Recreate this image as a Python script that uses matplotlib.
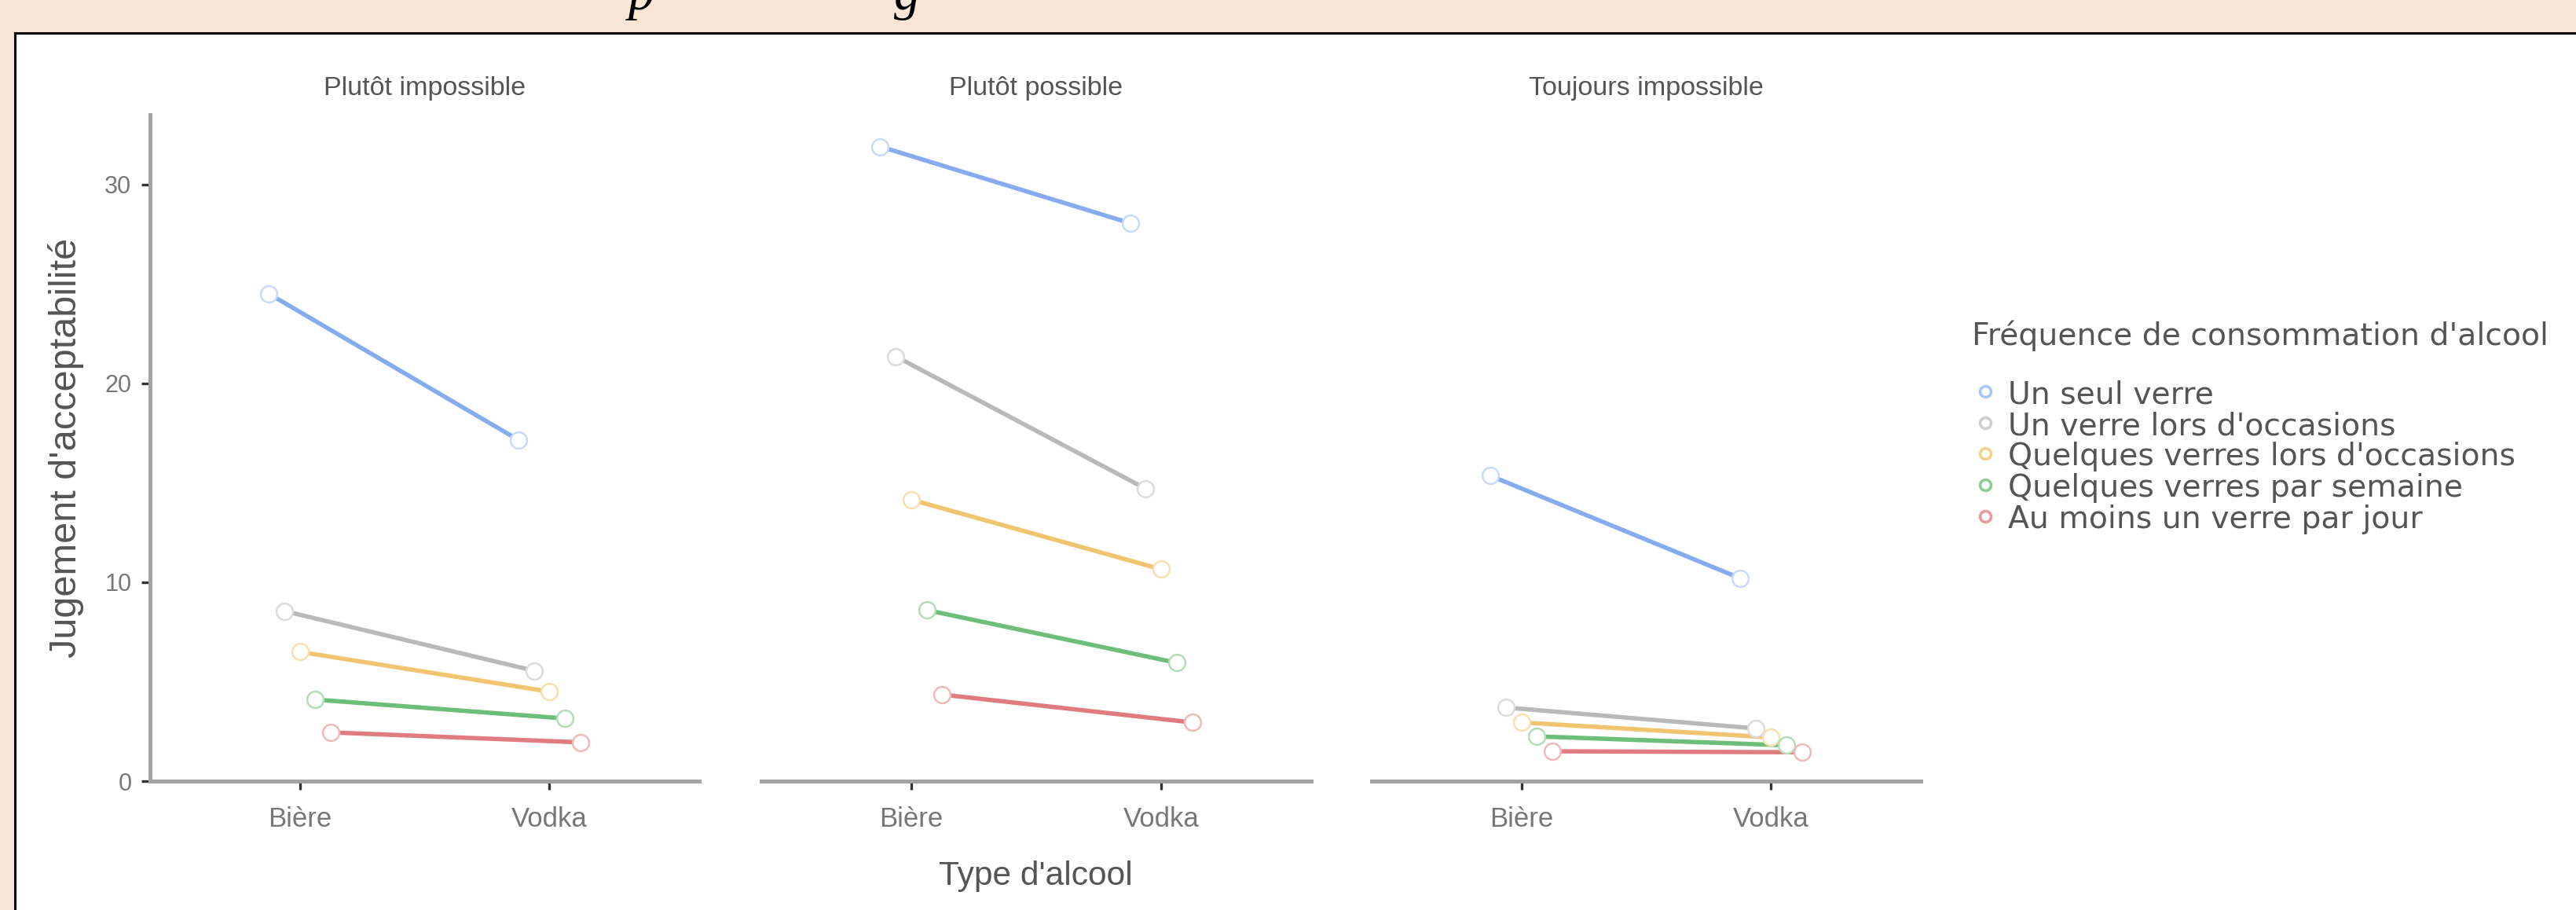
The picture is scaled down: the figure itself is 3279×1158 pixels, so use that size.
import matplotlib
matplotlib.use("Agg")
import matplotlib.pyplot as plt
from matplotlib.lines import Line2D
from matplotlib.patches import Rectangle
import numpy as np

plt.rcParams['font.family'] = ['Liberation Sans', 'DejaVu Sans']

panels = ["Plutôt impossible", "Plutôt possible", "Toujours impossible"]
alcools = ["Bière", "Vodka"]
groupes = ["Un seul verre", "Un verre lors d'occasions", "Quelques verres lors d'occasions",
           "Quelques verres par semaine", "Au moins un verre par jour"]

# jugement moyen [bière, vodka] pour chaque groupe
plutot_impossible = [[24.5, 17.15], [8.55, 5.55], [6.5, 4.5], [4.1, 3.15], [2.45, 1.95]]
plutot_possible = [[31.9, 28.05], [21.35, 14.7], [14.15, 10.65], [8.6, 5.95], [4.35, 2.95]]
toujours_impossible = [[15.35, 10.2], [3.7, 2.65], [2.95, 2.2], [2.25, 1.8], [1.5, 1.45]]
y_ticks = [0, 10, 20, 30]

line_colors = ['#86ACF0', '#B9B9B9', '#F1C46F', '#6DBE78', '#E07C80']
edge_colors = ['#C8DAFA', '#DCDCDC', '#F8DFAE', '#B3DDB7', '#F2B9BB']
legend_edges = ['#A9C4F6', '#CFCFCF', '#F4D08C', '#8FCC96', '#EA9A9D']

W, H = 3280, 1158
DPI = 200
fig = plt.figure(figsize=(W / DPI, H / DPI), dpi=DPI, facecolor='#FBE5D6')

# white page area with black frame on top / left
top = (H - 42) / H
left = 19 / W
fig.add_artist(Rectangle((left, 0), 1 - left, top, transform=fig.transFigure,
                         facecolor='white', edgecolor='none', zorder=-5))
fig.add_artist(Line2D([left, 1], [top, top], transform=fig.transFigure, color='black', lw=1.1))
fig.add_artist(Line2D([left, left], [0, top], transform=fig.transFigure, color='black', lw=1.1))

# bits of the caption above, cut off by the crop
fig.text(800 / W, 1 - 12 / H, "p", family='Liberation Serif', style='italic', fontsize=24,
         va='baseline', ha='left', color='black')
fig.text(1138 / W, 1 - 12 / H, "g", family='Liberation Serif', style='italic', fontsize=24,
         va='baseline', ha='left', color='black')

def px_axes(x0, x1, y0, y1):
    return fig.add_axes([x0 / W, 1 - y1 / H, (x1 - x0) / W, (y1 - y0) / H])

panel_px = [(191, 890), (969, 1669), (1746, 2445)]
data = [plutot_impossible, plutot_possible, toujours_impossible]
offsets = [-0.124, -0.062, 0.0, 0.062, 0.124]
x_base = np.array([1, 2])

for i, (x0, x1) in enumerate(panel_px):
    ax = px_axes(x0, x1, 146, 994)
    ax.set_facecolor('none')
    for k in range(len(groupes)):
        xs = x_base + offsets[k]
        ax.plot(xs, data[i][k], color=line_colors[k], lw=2.0, zorder=2)
    for k in range(len(groupes)):
        xs = x_base + offsets[k]
        ax.plot(xs, data[i][k], 'o', ms=7.5, mfc='white', mec=edge_colors[k], mew=0.9, zorder=3)
    ax.set_xlim(0.4, 2.6)
    ax.set_ylim(0, 33.5)
    ax.set_xticks(x_base)
    ax.set_xticklabels(alcools)
    for s in ['top', 'right']:
        ax.spines[s].set_visible(False)
    ax.spines['bottom'].set_color('#A3A3A3')
    ax.spines['bottom'].set_linewidth(1.8)
    ax.tick_params(axis='x', length=4, width=1.2, color='#333333', labelsize=12.5,
                   labelcolor='#777777', pad=7.5)
    if i == 0:
        ax.spines['left'].set_color('#A3A3A3')
        ax.spines['left'].set_linewidth(1.8)
        ax.set_yticks(y_ticks)
        ax.tick_params(axis='y', length=4, width=1.2, color='#333333', labelsize=11,
                       labelcolor='#777777', pad=4.5)
    else:
        ax.spines['left'].set_visible(False)
        ax.tick_params(axis='y', left=False, labelleft=False)
    ax.set_title(panels[i], fontsize=12.3, color='#555555', pad=9)

fig.text(84 / W, 1 - 570 / H, "Jugement d'acceptabilité", rotation=90, ha='center',
         va='center', fontsize=17.5, color='#555555')
fig.text(1318 / W, 1 - 1115 / H, "Type d'alcool", ha='center', va='center',
         fontsize=15.3, color='#555555')

# legend, laid out by hand (wider face so it fits the tight rows)
leg_font = 'DejaVu Sans'
fig.text(2510 / W, 1 - 427 / H, "Fréquence de consommation d'alcool", ha='left', va='center',
         fontsize=14.2, color='#555555', family=leg_font)
entry_y = [498, 538, 577, 617, 657]
for k in range(len(groupes)):
    fy = 1 - entry_y[k] / H
    fig.add_artist(Line2D([2527 / W], [fy], transform=fig.transFigure, ls='none', marker='o',
                          ms=5, mfc='white', mec=legend_edges[k], mew=1.3))
    fig.text(2556 / W, fy, groupes[k], ha='left', va='center_baseline', fontsize=14.2,
             color='#555555', family=leg_font)

fig.savefig('out.png', dpi=DPI, facecolor=fig.get_facecolor())
